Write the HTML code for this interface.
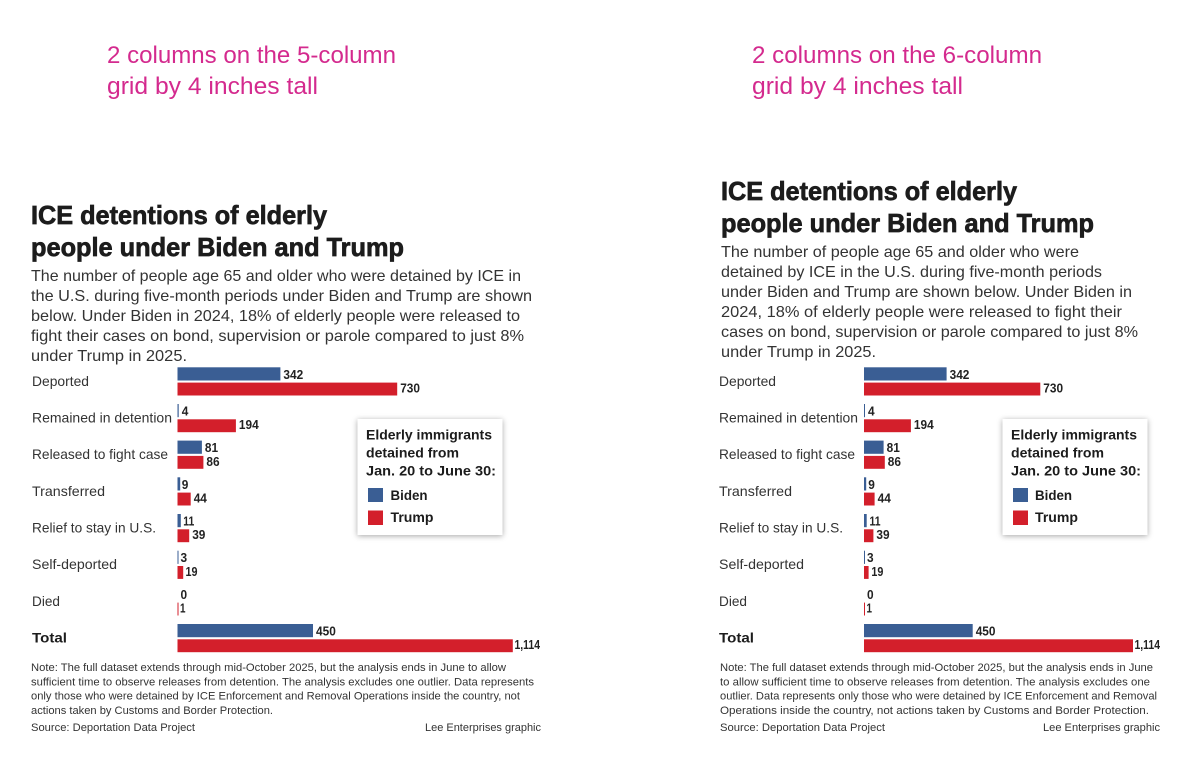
<!DOCTYPE html>
<html>
<head>
<meta charset="utf-8">
<style>
html,body{margin:0;padding:0;background:#fff;}
svg{display:block;}
.pk{font-family:"Liberation Sans",sans-serif;font-size:24px;fill:#d42a8e;}
.tt{font-family:"Liberation Sans",sans-serif;font-size:26px;font-weight:bold;fill:#1c1c1c;stroke:#1c1c1c;stroke-width:0.7px;}
.ds{font-family:"Liberation Sans",sans-serif;font-size:16px;fill:#333;}
.lb{font-family:"Liberation Sans",sans-serif;font-size:14px;fill:#333;}
.lbb{font-family:"Liberation Sans",sans-serif;font-size:14px;font-weight:bold;fill:#1c1c1c;}
.vl{font-family:"Liberation Sans",sans-serif;font-size:13px;font-weight:bold;fill:#222;}
.nt{font-family:"Liberation Sans",sans-serif;font-size:11px;fill:#333;}
.lg{font-family:"Liberation Sans",sans-serif;font-size:14px;font-weight:bold;fill:#1c1c1c;}
.b{fill:#3a5e94;}
.r{fill:#d31f2b;}
</style>
</head>
<body>
<svg width="1200" height="779" viewBox="0 0 1200 779" xmlns="http://www.w3.org/2000/svg">
<defs>
<filter id="sh" x="-10%" y="-10%" width="120%" height="125%">
<feDropShadow dx="0" dy="1" stdDeviation="3" flood-color="#000" flood-opacity="0.35"/>
</filter>
</defs>
<rect width="1200" height="779" fill="#fff"/>

<!-- ================= LEFT PANEL ================= -->
<text class="pk" x="107" y="63" textLength="289" lengthAdjust="spacingAndGlyphs">2 columns on the 5-column</text>
<text class="pk" x="107" y="94" textLength="211" lengthAdjust="spacingAndGlyphs">grid by 4 inches tall</text>

<text class="tt" x="31" y="224" textLength="296" lengthAdjust="spacingAndGlyphs">ICE detentions of elderly</text>
<text class="tt" x="31" y="256" textLength="373" lengthAdjust="spacingAndGlyphs">people under Biden and Trump</text>

<text class="ds" x="31" y="281" textLength="490" lengthAdjust="spacingAndGlyphs">The number of people age 65 and older who were detained by ICE in</text>
<text class="ds" x="31" y="301" textLength="501" lengthAdjust="spacingAndGlyphs">the U.S. during five-month periods under Biden and Trump are shown</text>
<text class="ds" x="31" y="321" textLength="489" lengthAdjust="spacingAndGlyphs">below. Under Biden in 2024, 18% of elderly people were released to</text>
<text class="ds" x="31" y="341" textLength="493" lengthAdjust="spacingAndGlyphs">fight their cases on bond, supervision or parole compared to just 8%</text>
<text class="ds" x="31" y="361" textLength="156" lengthAdjust="spacingAndGlyphs">under Trump in 2025.</text>

<!-- labels -->
<text class="lb" x="32" y="385.8" textLength="57" lengthAdjust="spacingAndGlyphs">Deported</text>
<text class="lb" x="32" y="422.5" textLength="140" lengthAdjust="spacingAndGlyphs">Remained in detention</text>
<text class="lb" x="32" y="459.1" textLength="136" lengthAdjust="spacingAndGlyphs">Released to fight case</text>
<text class="lb" x="32" y="495.8" textLength="73" lengthAdjust="spacingAndGlyphs">Transferred</text>
<text class="lb" x="32" y="532.5" textLength="124" lengthAdjust="spacingAndGlyphs">Relief to stay in U.S.</text>
<text class="lb" x="32" y="569.2" textLength="85" lengthAdjust="spacingAndGlyphs">Self-deported</text>
<text class="lb" x="32" y="605.8" textLength="28" lengthAdjust="spacingAndGlyphs">Died</text>
<text class="lbb" x="32" y="642.5" textLength="35" lengthAdjust="spacingAndGlyphs">Total</text>

<!-- bars left: x0=177.5, k=0.301 -->
<rect class="b" x="177.5" y="367.3" width="102.9" height="13.2"/>
<rect class="r" x="177.5" y="382.6" width="219.7" height="12.9"/>
<text class="vl" x="283.4" y="378.8" textLength="19.8" lengthAdjust="spacingAndGlyphs">342</text>
<text class="vl" x="400.2" y="392.5" textLength="19.8" lengthAdjust="spacingAndGlyphs">730</text>

<rect class="b" x="177.5" y="404.0" width="1.2" height="13.2"/>
<rect class="r" x="177.5" y="419.3" width="58.4" height="12.9"/>
<text class="vl" x="181.7" y="415.5" textLength="6.6" lengthAdjust="spacingAndGlyphs">4</text>
<text class="vl" x="238.9" y="429.2" textLength="19.8" lengthAdjust="spacingAndGlyphs">194</text>

<rect class="b" x="177.5" y="440.6" width="24.4" height="13.2"/>
<rect class="r" x="177.5" y="455.9" width="25.9" height="12.9"/>
<text class="vl" x="204.9" y="452.1" textLength="13.2" lengthAdjust="spacingAndGlyphs">81</text>
<text class="vl" x="206.4" y="465.8" textLength="13.2" lengthAdjust="spacingAndGlyphs">86</text>

<rect class="b" x="177.5" y="477.3" width="2.7" height="13.2"/>
<rect class="r" x="177.5" y="492.6" width="13.2" height="12.9"/>
<text class="vl" x="181.7" y="488.8" textLength="6.6" lengthAdjust="spacingAndGlyphs">9</text>
<text class="vl" x="193.7" y="502.5" textLength="13.2" lengthAdjust="spacingAndGlyphs">44</text>

<rect class="b" x="177.5" y="514.0" width="3.3" height="13.2"/>
<rect class="r" x="177.5" y="529.3" width="11.7" height="12.9"/>
<text class="vl" x="183.3" y="525.5" textLength="11" lengthAdjust="spacingAndGlyphs">11</text>
<text class="vl" x="192.2" y="539.2" textLength="13.2" lengthAdjust="spacingAndGlyphs">39</text>

<rect class="b" x="177.5" y="550.7" width="1" height="13.2"/>
<rect class="r" x="177.5" y="566.0" width="5.7" height="12.9"/>
<text class="vl" x="180.5" y="562.2" textLength="6.6" lengthAdjust="spacingAndGlyphs">3</text>
<text class="vl" x="185.5" y="575.9" textLength="12" lengthAdjust="spacingAndGlyphs">19</text>

<rect class="r" x="177.5" y="602.6" width="1" height="12.9"/>
<text class="vl" x="180.5" y="598.8" textLength="6.6" lengthAdjust="spacingAndGlyphs">0</text>
<text class="vl" x="180.0" y="612.5" textLength="5.5" lengthAdjust="spacingAndGlyphs">1</text>

<rect class="b" x="177.5" y="624.0" width="135.5" height="13.2"/>
<rect class="r" x="177.5" y="639.3" width="335.3" height="12.9"/>
<text class="vl" x="316" y="635.5" textLength="19.8" lengthAdjust="spacingAndGlyphs">450</text>
<text class="vl" x="514.5" y="649.2" textLength="25.5" lengthAdjust="spacingAndGlyphs">1,114</text>

<!-- legend left -->
<rect x="357.5" y="419" width="145" height="116" fill="#fff" filter="url(#sh)"/>
<text class="lg" x="366" y="439.5" textLength="126" lengthAdjust="spacingAndGlyphs">Elderly immigrants</text>
<text class="lg" x="366" y="457.5" textLength="93" lengthAdjust="spacingAndGlyphs">detained from</text>
<text class="lg" x="366" y="475.5" textLength="130" lengthAdjust="spacingAndGlyphs">Jan. 20 to June 30:</text>
<rect class="b" x="368" y="488" width="15" height="14"/>
<rect class="r" x="368" y="510.5" width="15" height="14.5"/>
<text class="lg" x="390.5" y="500" textLength="37" lengthAdjust="spacingAndGlyphs">Biden</text>
<text class="lg" x="390.5" y="522" textLength="43" lengthAdjust="spacingAndGlyphs">Trump</text>

<!-- notes left -->
<text class="nt" x="31" y="671" textLength="475" lengthAdjust="spacingAndGlyphs">Note: The full dataset extends through mid-October 2025, but the analysis ends in June to allow</text>
<text class="nt" x="31" y="685.3" textLength="503" lengthAdjust="spacingAndGlyphs">sufficient time to observe releases from detention. The analysis excludes one outlier. Data represents</text>
<text class="nt" x="31" y="699.6" textLength="489" lengthAdjust="spacingAndGlyphs">only those who were detained by ICE Enforcement and Removal Operations inside the country, not</text>
<text class="nt" x="31" y="714" textLength="242" lengthAdjust="spacingAndGlyphs">actions taken by Customs and Border Protection.</text>
<text class="nt" x="31" y="731" textLength="164" lengthAdjust="spacingAndGlyphs">Source: Deportation Data Project</text>
<text class="nt" x="425" y="731" textLength="116" lengthAdjust="spacingAndGlyphs">Lee Enterprises graphic</text>

<!-- ================= RIGHT PANEL ================= -->
<text class="pk" x="752" y="63" textLength="290" lengthAdjust="spacingAndGlyphs">2 columns on the 6-column</text>
<text class="pk" x="752" y="94" textLength="211" lengthAdjust="spacingAndGlyphs">grid by 4 inches tall</text>

<text class="tt" x="721" y="200" textLength="296" lengthAdjust="spacingAndGlyphs">ICE detentions of elderly</text>
<text class="tt" x="721" y="232" textLength="373" lengthAdjust="spacingAndGlyphs">people under Biden and Trump</text>

<text class="ds" x="721" y="257" textLength="358" lengthAdjust="spacingAndGlyphs">The number of people age 65 and older who were</text>
<text class="ds" x="721" y="277" textLength="381" lengthAdjust="spacingAndGlyphs">detained by ICE in the U.S. during five-month periods</text>
<text class="ds" x="721" y="297" textLength="411" lengthAdjust="spacingAndGlyphs">under Biden and Trump are shown below. Under Biden in</text>
<text class="ds" x="721" y="317" textLength="401" lengthAdjust="spacingAndGlyphs">2024, 18% of elderly people were released to fight their</text>
<text class="ds" x="721" y="337" textLength="417" lengthAdjust="spacingAndGlyphs">cases on bond, supervision or parole compared to just 8%</text>
<text class="ds" x="721" y="357" textLength="155" lengthAdjust="spacingAndGlyphs">under Trump in 2025.</text>

<!-- labels right -->
<text class="lb" x="719" y="385.8" textLength="57" lengthAdjust="spacingAndGlyphs">Deported</text>
<text class="lb" x="719" y="422.5" textLength="139" lengthAdjust="spacingAndGlyphs">Remained in detention</text>
<text class="lb" x="719" y="459.1" textLength="136" lengthAdjust="spacingAndGlyphs">Released to fight case</text>
<text class="lb" x="719" y="495.8" textLength="73" lengthAdjust="spacingAndGlyphs">Transferred</text>
<text class="lb" x="719" y="532.5" textLength="124" lengthAdjust="spacingAndGlyphs">Relief to stay in U.S.</text>
<text class="lb" x="719" y="569.2" textLength="85" lengthAdjust="spacingAndGlyphs">Self-deported</text>
<text class="lb" x="719" y="605.8" textLength="28" lengthAdjust="spacingAndGlyphs">Died</text>
<text class="lbb" x="719" y="642.5" textLength="35" lengthAdjust="spacingAndGlyphs">Total</text>

<!-- bars right: x0=864, k=0.2415 -->
<rect class="b" x="864" y="367.3" width="82.6" height="13.2"/>
<rect class="r" x="864" y="382.6" width="176.3" height="12.9"/>
<text class="vl" x="949.6" y="378.8" textLength="19.8" lengthAdjust="spacingAndGlyphs">342</text>
<text class="vl" x="1043.3" y="392.5" textLength="19.8" lengthAdjust="spacingAndGlyphs">730</text>

<rect class="b" x="864" y="404.0" width="1" height="13.2"/>
<rect class="r" x="864" y="419.3" width="46.9" height="12.9"/>
<text class="vl" x="868" y="415.5" textLength="6.6" lengthAdjust="spacingAndGlyphs">4</text>
<text class="vl" x="913.9" y="429.2" textLength="19.8" lengthAdjust="spacingAndGlyphs">194</text>

<rect class="b" x="864" y="440.6" width="19.6" height="13.2"/>
<rect class="r" x="864" y="455.9" width="20.8" height="12.9"/>
<text class="vl" x="886.6" y="452.1" textLength="13.2" lengthAdjust="spacingAndGlyphs">81</text>
<text class="vl" x="887.8" y="465.8" textLength="13.2" lengthAdjust="spacingAndGlyphs">86</text>

<rect class="b" x="864" y="477.3" width="2.2" height="13.2"/>
<rect class="r" x="864" y="492.6" width="10.6" height="12.9"/>
<text class="vl" x="868.2" y="488.8" textLength="6.6" lengthAdjust="spacingAndGlyphs">9</text>
<text class="vl" x="877.6" y="502.5" textLength="13.2" lengthAdjust="spacingAndGlyphs">44</text>

<rect class="b" x="864" y="514.0" width="2.7" height="13.2"/>
<rect class="r" x="864" y="529.3" width="9.4" height="12.9"/>
<text class="vl" x="869.5" y="525.5" textLength="11" lengthAdjust="spacingAndGlyphs">11</text>
<text class="vl" x="876.4" y="539.2" textLength="13.2" lengthAdjust="spacingAndGlyphs">39</text>

<rect class="b" x="864" y="550.7" width="1" height="13.2"/>
<rect class="r" x="864" y="566.0" width="4.6" height="12.9"/>
<text class="vl" x="867" y="562.2" textLength="6.6" lengthAdjust="spacingAndGlyphs">3</text>
<text class="vl" x="871.4" y="575.9" textLength="12" lengthAdjust="spacingAndGlyphs">19</text>

<rect class="r" x="864" y="602.6" width="1" height="12.9"/>
<text class="vl" x="867" y="598.8" textLength="6.6" lengthAdjust="spacingAndGlyphs">0</text>
<text class="vl" x="866.5" y="612.5" textLength="5.5" lengthAdjust="spacingAndGlyphs">1</text>

<rect class="b" x="864" y="624.0" width="108.7" height="13.2"/>
<rect class="r" x="864" y="639.3" width="269" height="12.9"/>
<text class="vl" x="975.7" y="635.5" textLength="19.8" lengthAdjust="spacingAndGlyphs">450</text>
<text class="vl" x="1134.5" y="649.2" textLength="25.5" lengthAdjust="spacingAndGlyphs">1,114</text>

<!-- legend right -->
<rect x="1002.5" y="419" width="145" height="116" fill="#fff" filter="url(#sh)"/>
<text class="lg" x="1011" y="439.5" textLength="126" lengthAdjust="spacingAndGlyphs">Elderly immigrants</text>
<text class="lg" x="1011" y="457.5" textLength="93" lengthAdjust="spacingAndGlyphs">detained from</text>
<text class="lg" x="1011" y="475.5" textLength="130" lengthAdjust="spacingAndGlyphs">Jan. 20 to June 30:</text>
<rect class="b" x="1013" y="488" width="15" height="14"/>
<rect class="r" x="1013" y="510.5" width="15" height="14.5"/>
<text class="lg" x="1035" y="500" textLength="37" lengthAdjust="spacingAndGlyphs">Biden</text>
<text class="lg" x="1035" y="522" textLength="43" lengthAdjust="spacingAndGlyphs">Trump</text>

<!-- notes right -->
<text class="nt" x="720" y="671" textLength="433" lengthAdjust="spacingAndGlyphs">Note: The full dataset extends through mid-October 2025, but the analysis ends in June</text>
<text class="nt" x="720" y="685.3" textLength="430" lengthAdjust="spacingAndGlyphs">to allow sufficient time to observe releases from detention. The analysis excludes one</text>
<text class="nt" x="720" y="699.6" textLength="437" lengthAdjust="spacingAndGlyphs">outlier. Data represents only those who were detained by ICE Enforcement and Removal</text>
<text class="nt" x="720" y="714" textLength="429" lengthAdjust="spacingAndGlyphs">Operations inside the country, not actions taken by Customs and Border Protection.</text>
<text class="nt" x="720" y="731" textLength="165" lengthAdjust="spacingAndGlyphs">Source: Deportation Data Project</text>
<text class="nt" x="1043" y="731" textLength="117" lengthAdjust="spacingAndGlyphs">Lee Enterprises graphic</text>
</svg>
</body>
</html>
